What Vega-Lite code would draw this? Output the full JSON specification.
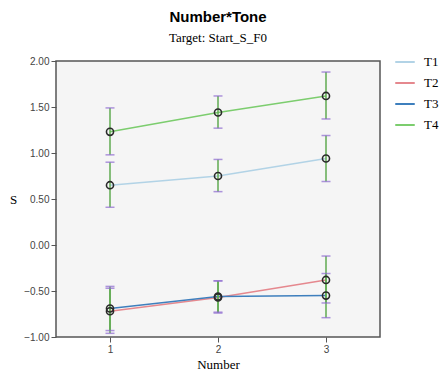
{
  "$schema": "https://vega.github.io/schema/vega-lite/v6.json",
  "width": 324,
  "height": 276,
  "autosize": {"type": "none"},
  "padding": {"left": 56, "top": 61, "right": 59, "bottom": 39},
  "background": "white",
  "title": {
    "text": "Number*Tone",
    "subtitle": "Target: Start_S_F0",
    "anchor": "middle",
    "frame": "group",
    "font": "Liberation Sans",
    "fontSize": 15,
    "fontWeight": "bold",
    "color": "#000",
    "subtitleFont": "Liberation Serif",
    "subtitleFontSize": 13,
    "subtitleColor": "#000",
    "subtitlePadding": 7,
    "offset": 6
  },
  "config": {
    "view": {"stroke": "#555", "strokeWidth": 1.5, "fill": "#f5f5f5"},
    "axis": {
      "grid": false,
      "labelFont": "Liberation Sans",
      "labelFontSize": 10,
      "labelColor": "#444",
      "titleFont": "Liberation Serif",
      "titleFontSize": 13,
      "titleFontWeight": "normal",
      "titleColor": "#000",
      "domainColor": "#555",
      "tickColor": "#555",
      "tickSize": 5
    }
  },
  "datasets": {
    "d": [
      {"tone": "T1", "number": 1, "mean": 0.65, "lo": 0.41, "hi": 0.9},
      {"tone": "T1", "number": 2, "mean": 0.75, "lo": 0.58, "hi": 0.93},
      {"tone": "T1", "number": 3, "mean": 0.94, "lo": 0.69, "hi": 1.19},
      {"tone": "T2", "number": 1, "mean": -0.72, "lo": -0.96, "hi": -0.47},
      {"tone": "T2", "number": 2, "mean": -0.57, "lo": -0.74, "hi": -0.39},
      {"tone": "T2", "number": 3, "mean": -0.38, "lo": -0.63, "hi": -0.12},
      {"tone": "T3", "number": 1, "mean": -0.69, "lo": -0.93, "hi": -0.45},
      {"tone": "T3", "number": 2, "mean": -0.56, "lo": -0.73, "hi": -0.39},
      {"tone": "T3", "number": 3, "mean": -0.55, "lo": -0.79, "hi": -0.31},
      {"tone": "T4", "number": 1, "mean": 1.23, "lo": 0.98, "hi": 1.49},
      {"tone": "T4", "number": 2, "mean": 1.44, "lo": 1.27, "hi": 1.62},
      {"tone": "T4", "number": 3, "mean": 1.62, "lo": 1.37, "hi": 1.88}
    ]
  },
  "data": {"name": "d"},
  "encoding": {
    "x": {
      "field": "number",
      "type": "quantitative",
      "scale": {"domain": [0.5, 3.5], "nice": false, "zero": false},
      "axis": {"values": [1, 2, 3], "format": "d", "title": "Number", "domain": false, "titlePadding": 4, "labelPadding": 2}
    }
  },
  "layer": [
    {
      "mark": {"type": "line", "strokeWidth": 1.5},
      "encoding": {
        "y": {
          "field": "mean",
          "type": "quantitative",
          "scale": {"domain": [-1, 2], "nice": false, "zero": false},
          "axis": {"values": [-1, -0.5, 0, 0.5, 1, 1.5, 2], "format": ".2f", "title": "S", "titleAngle": 0, "titleAlign": "right", "titleBaseline": "middle", "titlePadding": 7, "domain": false}
        },
        "color": {
          "field": "tone",
          "type": "nominal",
          "scale": {"domain": ["T1", "T2", "T3", "T4"], "range": ["#b2d3e6", "#e5888e", "#3e7fbd", "#7ccd6e"]},
          "legend": {
            "title": null,
            "orient": "none",
            "legendX": 338,
            "legendY": -10,
            "symbolType": "stroke",
            "symbolStrokeWidth": 2,
            "symbolSize": 380,
            "labelFont": "Liberation Serif",
            "labelFontSize": 13,
            "labelColor": "#000",
            "rowPadding": 3,
            "labelOffset": 8
          }
        }
      }
    },
    {
      "mark": {"type": "rule", "color": "#5faa50", "strokeWidth": 1.5},
      "encoding": {
        "y": {"field": "lo", "type": "quantitative"},
        "y2": {"field": "hi"}
      }
    },
    {
      "mark": {"type": "tick", "orient": "horizontal", "color": "#8d6ad0", "size": 9, "thickness": 1.5},
      "encoding": {"y": {"field": "lo", "type": "quantitative"}}
    },
    {
      "mark": {"type": "tick", "orient": "horizontal", "color": "#8d6ad0", "size": 9, "thickness": 1.5},
      "encoding": {"y": {"field": "hi", "type": "quantitative"}}
    },
    {
      "mark": {"type": "point", "shape": "circle", "filled": false, "color": "#2a2a2a", "strokeWidth": 1.6, "size": 50, "opacity": 1},
      "encoding": {"y": {"field": "mean", "type": "quantitative"}}
    }
  ]
}
